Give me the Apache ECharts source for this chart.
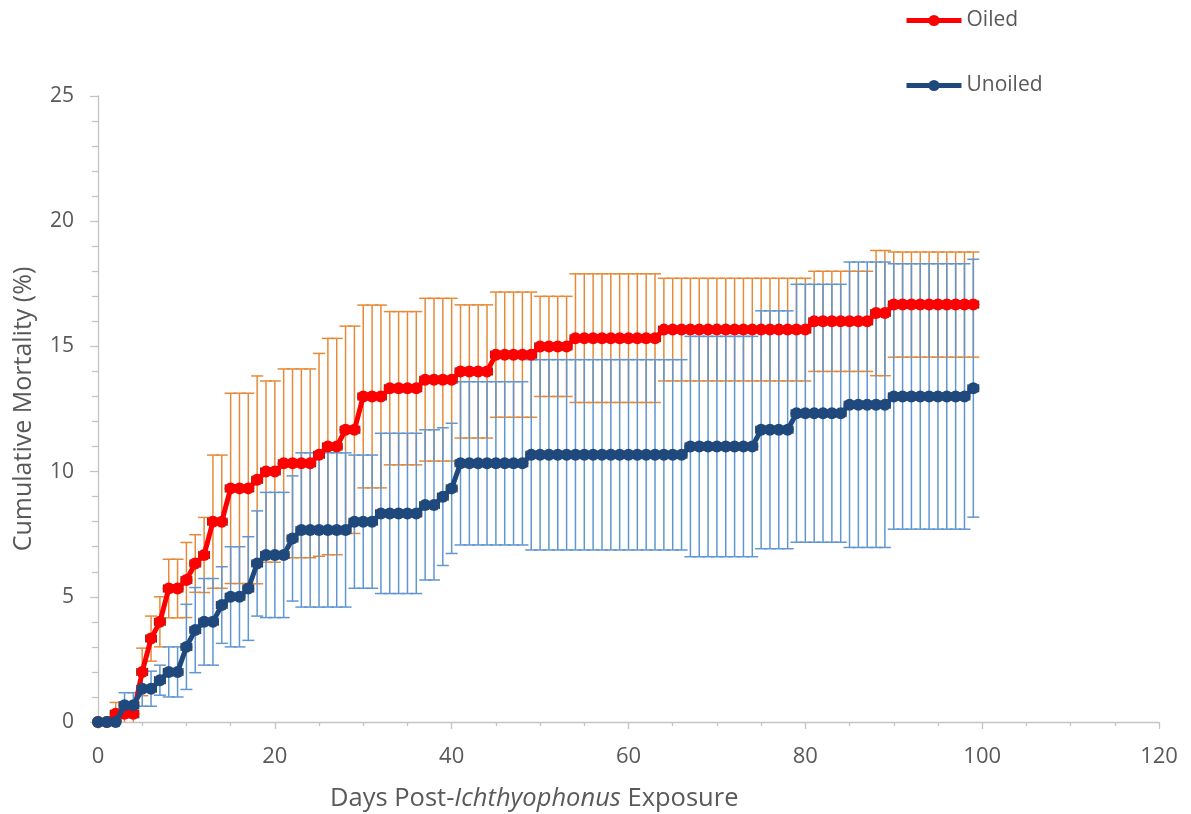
<!DOCTYPE html>
<html>
<head>
<meta charset="utf-8">
<script src="https://cdn.jsdelivr.net/npm/echarts@6/dist/echarts.min.js"></script>
<style>
html,body{margin:0;padding:0;background:#fff;}
#chart{width:1191px;height:814px;}
</style>
</head>
<body>
<div id="chart"></div>
<script>
// ---- data ----
const days = [0,1,2,3,4,5,6,7,8,9,10,11,12,13,14,15,16,17,18,19,20,21,22,23,24,25,26,27,28,29,30,31,32,33,34,35,36,37,38,39,40,41,42,43,44,45,46,47,48,49,50,51,52,53,54,55,56,57,58,59,60,61,62,63,64,65,66,67,68,69,70,71,72,73,74,75,76,77,78,79,80,81,82,83,84,85,86,87,88,89,90,91,92,93,94,95,96,97,98,99];

const oiledMean = [
0,0,0.33,0.33,0.33,2.0,3.33,4.0,5.33,5.33,
5.67,6.33,6.67,8.0,8.0,9.33,9.33,9.33,9.67,10.0,
10.0,10.33,10.33,10.33,10.33,10.67,11.0,11.0,11.67,11.67,
13.0,13.0,13.0,13.33,13.33,13.33,13.33,13.67,13.67,13.67,
13.67,14.0,14.0,14.0,14.0,14.67,14.67,14.67,14.67,14.67,
15.0,15.0,15.0,15.0,15.33,15.33,15.33,15.33,15.33,15.33,
15.33,15.33,15.33,15.33,15.67,15.67,15.67,15.67,15.67,15.67,
15.67,15.67,15.67,15.67,15.67,15.67,15.67,15.67,15.67,15.67,
15.67,16.0,16.0,16.0,16.0,16.0,16.0,16.0,16.33,16.33,
16.67,16.67,16.67,16.67,16.67,16.67,16.67,16.67,16.67,16.67];

const oiledErr = [
0,0,0.45,0.45,0.45,0.95,0.9,1.0,1.17,1.17,
1.5,1.15,1.5,2.66,2.66,3.8,3.8,3.8,4.15,3.62,
3.62,3.77,3.77,3.77,3.77,4.05,4.32,4.32,4.14,4.14,
3.65,3.65,3.65,3.06,3.06,3.06,3.06,3.25,3.25,3.25,
3.25,2.66,2.66,2.66,2.66,2.5,2.5,2.5,2.5,2.5,
2.0,2.0,2.0,2.0,2.57,2.57,2.57,2.57,2.57,2.57,
2.57,2.57,2.57,2.57,2.05,2.05,2.05,2.05,2.05,2.05,
2.05,2.05,2.05,2.05,2.05,2.05,2.05,2.05,2.05,2.05,
2.05,2.0,2.0,2.0,2.0,2.0,2.0,2.0,2.5,2.5,
2.1,2.1,2.1,2.1,2.1,2.1,2.1,2.1,2.1,2.1];

const unoiledMean = [
0,0,0,0.67,0.67,1.33,1.33,1.67,2.0,2.0,
3.0,3.67,4.0,4.0,4.67,5.0,5.0,5.33,6.33,6.67,
6.67,6.67,7.33,7.67,7.67,7.67,7.67,7.67,7.67,8.0,
8.0,8.0,8.33,8.33,8.33,8.33,8.33,8.67,8.67,9.0,
9.33,10.33,10.33,10.33,10.33,10.33,10.33,10.33,10.33,10.67,
10.67,10.67,10.67,10.67,10.67,10.67,10.67,10.67,10.67,10.67,
10.67,10.67,10.67,10.67,10.67,10.67,10.67,11.0,11.0,11.0,
11.0,11.0,11.0,11.0,11.0,11.67,11.67,11.67,11.67,12.33,
12.33,12.33,12.33,12.33,12.33,12.67,12.67,12.67,12.67,12.67,
13.0,13.0,13.0,13.0,13.0,13.0,13.0,13.0,13.0,13.33];

const unoiledErr = [
0,0,0,0.5,0.5,0.7,0.7,0.6,1.0,1.0,
1.7,1.7,1.73,1.73,1.53,2.0,2.0,2.07,2.1,2.5,
2.5,2.5,2.5,3.08,3.08,3.08,3.08,3.08,3.08,2.66,
2.66,2.66,3.2,3.2,3.2,3.2,3.2,3.0,3.0,2.75,
2.6,3.26,3.26,3.26,3.26,3.26,3.26,3.26,3.26,3.8,
3.8,3.8,3.8,3.8,3.8,3.8,3.8,3.8,3.8,3.8,
3.8,3.8,3.8,3.8,3.8,3.8,3.8,4.4,4.4,4.4,
4.4,4.4,4.4,4.4,4.4,4.75,4.75,4.75,4.75,5.15,
5.15,5.15,5.15,5.15,5.15,5.7,5.7,5.7,5.7,5.7,
5.3,5.3,5.3,5.3,5.3,5.3,5.3,5.3,5.3,5.15];

const dayError = 0.6; // horizontal (x) error bar half-width, days

const xTicks = [0, 20, 40, 60, 80, 100, 120];
const yTicks = [0, 5, 10, 15, 20, 25];

// ---- chart ----
const FONT = '"Open Sans", "Noto Sans", sans-serif';
const TXT = '#595959';

function yErrRender(color) {
  return function (params, api) {
    const x = api.value(0), m = api.value(1), e = api.value(2);
    if (!e) return { type: 'group', children: [] };
    const top = api.coord([x, m + e]);
    const bot = api.coord([x, m - e]);
    const cw = 6;
    const style = { stroke: color, lineWidth: 1.5 };
    return {
      type: 'group',
      children: [
        { type: 'line', shape: { x1: top[0], y1: top[1], x2: bot[0], y2: bot[1] }, style },
        { type: 'line', shape: { x1: top[0] - cw, y1: top[1], x2: top[0] + cw, y2: top[1] }, style },
        { type: 'line', shape: { x1: bot[0] - cw, y1: bot[1], x2: bot[0] + cw, y2: bot[1] }, style }
      ]
    };
  };
}
function xErrRender(color) {
  return function (params, api) {
    const x = api.value(0), m = api.value(1);
    const l = api.coord([x - dayError, m]);
    const r = api.coord([x + dayError, m]);
    const ch = 4;
    const style = { stroke: color, lineWidth: 1.3 };
    return {
      type: 'group',
      children: [
        { type: 'line', shape: { x1: l[0], y1: l[1], x2: r[0], y2: r[1] }, style },
        { type: 'line', shape: { x1: l[0], y1: l[1] - ch, x2: l[0], y2: l[1] + ch }, style },
        { type: 'line', shape: { x1: r[0], y1: r[1] - ch, x2: r[0], y2: r[1] + ch }, style }
      ]
    };
  };
}

const oiledPts = days.map((d, i) => [d, oiledMean[i], oiledErr[i]]);
const unoiledPts = days.map((d, i) => [d, unoiledMean[i], unoiledErr[i]]);

const chart = echarts.init(document.getElementById('chart'), null, { renderer: 'canvas' });
chart.setOption({
  animation: false,
  backgroundColor: '#ffffff',
  textStyle: { fontFamily: FONT },
  grid: { left: 98, right: 32, top: 96, bottom: 92, containLabel: false },
  legend: {
    data: ['Oiled', 'Unoiled'],
    orient: 'vertical',
    left: 904,
    top: 10,
    padding: 0,
    itemWidth: 55,
    itemHeight: 14,
    itemGap: 44,
    lineStyle: { width: 5 },
    textStyle: { fontFamily: FONT, fontSize: 21, color: TXT }
  },
  graphic: [
    {
      type: 'text',
      left: 330,
      top: 786,
      silent: true,
      style: {
        text: '{n|Days Post-}{i|Ichthyophonus}{n| Exposure}',
        rich: {
          n: { fontFamily: FONT, fontSize: 25.5, fill: TXT, color: TXT },
          i: { fontFamily: FONT, fontSize: 25.5, fill: TXT, color: TXT, fontStyle: 'italic' }
        }
      }
    }
  ],
  xAxis: {
    type: 'value',
    min: xTicks[0],
    max: xTicks[xTicks.length - 1],
    interval: xTicks[1] - xTicks[0],
    axisLine: { show: true, lineStyle: { color: '#c4c4c4', width: 1.3 } },
    axisTick: { show: true, inside: false, length: 7, lineStyle: { color: '#c4c4c4', width: 1.3 } },
    minorTick: { show: true, splitNumber: 4, length: 4, lineStyle: { color: '#c4c4c4', width: 1.3 } },
    splitLine: { show: false },
    axisLabel: { margin: 24, fontFamily: FONT, fontSize: 22, color: TXT }
  },
  yAxis: {
    type: 'value',
    min: yTicks[0],
    max: yTicks[yTicks.length - 1],
    interval: yTicks[1] - yTicks[0],
    name: 'Cumulative Mortality (%)',
    nameLocation: 'middle',
    nameGap: 62,
    nameTextStyle: { fontFamily: FONT, fontSize: 25, color: TXT },
    axisLine: { show: true, lineStyle: { color: '#c4c4c4', width: 1.3 } },
    axisTick: { show: true, inside: false, length: 8, lineStyle: { color: '#c4c4c4', width: 1.3 } },
    minorTick: { show: true, splitNumber: 5, length: 6, lineStyle: { color: '#c4c4c4', width: 1.3 } },
    splitLine: { show: false },
    axisLabel: { margin: 24, fontFamily: FONT, fontSize: 21, color: TXT }
  },
  series: [
    {
      name: 'Oiled err', type: 'custom', clip: true, z: 1, silent: true,
      renderItem: yErrRender('#E68A38'),
      encode: { x: 0, y: 1 },
      data: oiledPts
    },
    {
      name: 'Unoiled err', type: 'custom', clip: true, z: 2, silent: true,
      renderItem: yErrRender('#6096D2'),
      encode: { x: 0, y: 1 },
      data: unoiledPts
    },
    {
      name: 'Oiled xerr', type: 'custom', clip: true, z: 3, silent: true,
      renderItem: xErrRender('#3a3a3a'),
      encode: { x: 0, y: 1 },
      data: oiledPts
    },
    {
      name: 'Unoiled xerr', type: 'custom', clip: true, z: 3, silent: true,
      renderItem: xErrRender('#3a3a3a'),
      encode: { x: 0, y: 1 },
      data: unoiledPts
    },
    {
      name: 'Oiled', type: 'line', z: 4,
      data: days.map((d, i) => [d, oiledMean[i]]),
      symbol: 'circle', symbolSize: 12, showSymbol: true,
      itemStyle: { color: '#FF0000' },
      lineStyle: { color: '#FF0000', width: 5 }
    },
    {
      name: 'Unoiled', type: 'line', z: 5,
      data: days.map((d, i) => [d, unoiledMean[i]]),
      symbol: 'circle', symbolSize: 12, showSymbol: true,
      itemStyle: { color: '#1F497D' },
      lineStyle: { color: '#1F497D', width: 5 }
    }
  ]
});
</script>
</body>
</html>
